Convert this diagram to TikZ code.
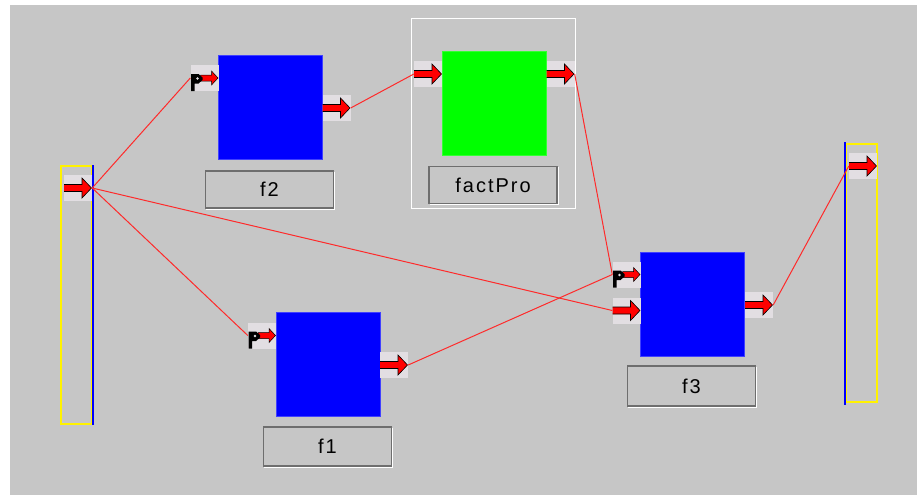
\documentclass[tikz,border=0pt]{standalone}
\usepackage{fontspec}
\newfontfamily\labelfont[LetterSpace=10]{Liberation Sans}
\definecolor{canvasgray}{HTML}{C6C6C6}
\definecolor{portgray}{HTML}{E2DEE2}
\definecolor{labelline}{HTML}{6E6E6E}
\definecolor{wirered}{HTML}{FF2A2A}
\definecolor{baryellow}{HTML}{FFF200}

\begin{document}
\begin{tikzpicture}[x=1pt, y=-1pt,
    fnblock/.style={fill=blue, draw=blue!75!white, line width=0.6pt, minimum width=104pt, minimum height=104pt, inner sep=0pt},
    fnlabel/.style={fill=canvasgray, draw=labelline, line width=1.2pt, minimum width=128pt, minimum height=37pt, inner sep=0pt,
        font=\labelfont\fontsize{20}{22}\selectfont,
        preaction={draw=white, line width=1pt, transform canvas={xshift=1.4pt, yshift=-1.4pt}}},
    bar/.style={draw=baryellow, line width=2pt, minimum width=31pt, minimum height=258pt, inner sep=0pt},
    % data port: big red arrow
    port/.style={fill=portgray, minimum width=28pt, minimum height=26pt, inner sep=0pt,
        path picture={
            \begin{scope}[shift={(path picture bounding box.center)}]
                \filldraw[fill=red, draw=black, line width=0.6pt] (-15,-3.5) -- (4,-3.5) -- (4,-10) -- (13.5,0) -- (4,10) -- (4,3.5) -- (-15,3.5) -- cycle;
            \end{scope}
        }},
    % event port: trigger mark plus small arrow
    evport/.style={fill=portgray, minimum width=28pt, minimum height=26pt, inner sep=0pt,
        path picture={
            \begin{scope}[shift={(path picture bounding box.center)}]
                \filldraw[fill=red, draw=black, line width=0.5pt] (-4,-3) -- (7,-3) -- (7,-7) -- (13.5,0) -- (7,7) -- (7,3) -- (-4,3) -- cycle;
                \fill[black] (-13.5,-4) -- (-6,-4) -- (-2,-0.5) -- (-2,2) -- (-6,5.5) -- (-10,5.5) -- (-10,13) -- (-13.5,13) -- cycle;
                \fill[portgray] (-7,0.5) circle (1.3);
            \end{scope}
        }},
    wire/.style={draw=wirered, line width=1pt}
]
% canvas
\fill[white] (0,0) rectangle (917,495);
\fill[canvasgray] (10,5) rectangle (917,495);

% source and sink bars
\node[bar] (src) at (76.5,295) {};
\draw[blue, line width=2pt] (src.north east) -- (src.south east);
\node[port] (srcout) at (78,188) {};

\node[bar] (snk) at (861.5,273) {};
\draw[blue, line width=2pt] ([yshift=1pt]snk.north west) -- ([yshift=-2pt]snk.south west);
\node[port] (snkin) at (863,166) {};

% f2
\node[fnblock] (f2) at (270,107) {};
\node[evport] (f2in) at (204.5,78) {};
\node[port] (f2out) at (336.5,108) {};
\node[fnlabel] (f2lbl) at (269.5,189.5) {f2};

% factPro
\node[draw=white, line width=1pt, minimum width=164pt, minimum height=189pt, inner sep=0pt] (fpframe) at (493,113.5) {};
\node[fnblock, fill=green, draw=green!80!white] (fp) at (494,103) {};
\node[port] (fpin) at (428,74) {};
\node[port] (fpout) at (560.5,74) {};
\node[fnlabel] (fplbl) at (493,185) {factPro};

% f1
\node[fnblock] (f1) at (328,364) {};
\node[evport] (f1in) at (262,335.5) {};
\node[port] (f1out) at (394,365) {};
\node[fnlabel, minimum height=39pt] (f1lbl) at (327.5,446.5) {f1};

% f3
\node[fnblock] (f3) at (692,304) {};
\node[evport] (f3ina) at (626.5,274.5) {};
\node[port] (f3inb) at (626.5,310.5) {};
\node[port] (f3out) at (759,305) {};
\node[fnlabel, minimum height=40pt] (f3lbl) at (691.5,386) {f3};

% links
\draw[wire] (srcout.east) -- (f2in.west);
\draw[wire] (srcout.east) -- (f1in.west);
\draw[wire] (srcout.east) -- (f3inb.west);
\draw[wire] (f2out.east) -- (fpin.west);
\draw[wire] (fpout.east) -- (f3ina.west);
\draw[wire] (f1out.east) -- (f3ina.west);
\draw[wire] (f3out.east) -- (snkin.west);
\end{tikzpicture}
\end{document}
